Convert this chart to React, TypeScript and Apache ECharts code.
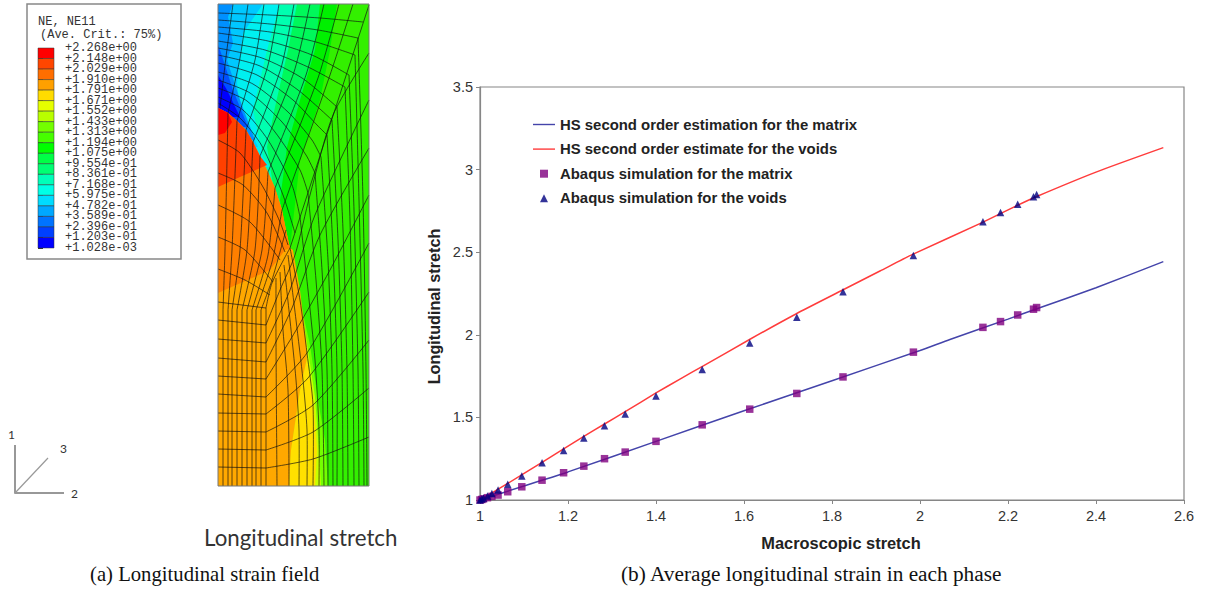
import React, { useEffect, useRef } from "react";
import * as echarts from "echarts";

// ---- right panel data ----
const hsMatrix = [[1, 1], [1.1, 1.085], [1.2, 1.17], [1.4, 1.355], [1.6, 1.54], [1.8, 1.722], [2, 1.905], [2.068, 1.972], [2.2, 2.095], [2.264, 2.156], [2.4, 2.285], [2.553, 2.443]];
const hsVoids = [[1, 1], [1.063, 1.1], [1.141, 1.228], [1.19, 1.31], [1.236, 1.385], [1.283, 1.46], [1.33, 1.535], [1.4, 1.648], [1.4545, 1.732], [1.5076, 1.812], [1.6136, 1.973], [1.718, 2.126], [1.8243, 2.271], [1.909, 2.386], [1.9833, 2.487], [2.141, 2.679], [2.22, 2.782], [2.264, 2.836], [2.4, 2.985], [2.553, 3.133]];
const abaqusMatrix = [[1, 1], [1.004, 1.003], [1.008, 1.007], [1.017, 1.014], [1.027, 1.022], [1.041, 1.03], [1.063, 1.05], [1.095, 1.08], [1.141, 1.12], [1.19, 1.165], [1.236, 1.205], [1.283, 1.25], [1.33, 1.29], [1.4, 1.355], [1.505, 1.455], [1.613, 1.55], [1.72, 1.645], [1.825, 1.745], [1.985, 1.895], [2.143, 2.045], [2.183, 2.08], [2.222, 2.12], [2.258, 2.155], [2.265, 2.165]];
const abaqusVoids = [[1, 1], [1.004, 1.006], [1.008, 1.012], [1.017, 1.024], [1.027, 1.04], [1.041, 1.06], [1.063, 1.095], [1.095, 1.145], [1.141, 1.225], [1.19, 1.3], [1.236, 1.375], [1.283, 1.45], [1.33, 1.52], [1.4, 1.63], [1.505, 1.79], [1.613, 1.95], [1.72, 2.106], [1.825, 2.26], [1.985, 2.48], [2.143, 2.685], [2.183, 2.74], [2.222, 2.79], [2.258, 2.835], [2.265, 2.85]];

// ---- contour legend ----
const contourLabels = ["+2.268e+00", "+2.148e+00", "+2.029e+00", "+1.910e+00", "+1.791e+00", "+1.671e+00", "+1.552e+00", "+1.433e+00", "+1.313e+00", "+1.194e+00", "+1.075e+00", "+9.554e-01", "+8.361e-01", "+7.168e-01", "+5.975e-01", "+4.782e-01", "+3.589e-01", "+2.396e-01", "+1.203e-01", "+1.028e-03"];
const cellColors = ["#ff0000", "#ff4600", "#ff6e00", "#ffa000", "#ffdc00", "#e6ff00", "#b9ff00", "#73ff00", "#46ff00", "#00ff00", "#00ff46", "#00ff73", "#00ffb9", "#00ffe6", "#00dcff", "#00a8ff", "#0073ff", "#0040ff", "#0000ff"];

// ---- FE field: picture-space outlines, painted back to front ----
const voidCurve = [[218, 108], [228, 113], [237, 121], [246, 130], [253, 142], [260, 156], [268, 172], [275, 188], [282, 210], [286, 230], [290, 248]];
const patches: { fill: string; pts: number[][] }[] = [
  { fill: "#33f000", pts: [[218, 4], [369, 4], [369, 486], [218, 486]] },
  { fill: "#00f000", pts: [[218, 4], [337, 4], [330, 50], [320, 100], [300, 160], [290, 248], [218, 248]] },
  { fill: "#00f85a", pts: [[218, 4], [320, 4], [315, 50], [300, 100], [287, 147], [280, 200], [285, 233], [218, 233]] },
  { fill: "#00ffb0", pts: [[218, 4], [297, 4], [288, 50], [275, 107], [267, 147], [275, 197], [218, 197]] },
  { fill: "#00f0f0", pts: [[218, 4], [280, 4], [267, 50], [253, 110], [263, 157], [270, 167], [218, 167]] },
  { fill: "#00c8ff", pts: [[218, 4], [263, 4], [243, 33], [237, 83], [240, 110], [258, 147], [218, 147]] },
  { fill: "#0090ff", pts: [[218, 4], [233, 4], [228, 17], [233, 43], [227, 60], [240, 100], [255, 140], [218, 140]] },
  { fill: "#0050ff", pts: [[218, 45], [220, 50], [233, 90], [248, 127], [218, 127]] },
  { fill: "#0000ff", pts: [[218, 75], [227, 90], [240, 117], [218, 117]] },
  { fill: "#73ff00", pts: [[290, 250], [300, 300], [310, 345], [318, 400], [325, 440], [328, 486], [266, 486], [266, 308]] },
  { fill: "#c8ff00", pts: [[290, 250], [300, 300], [308, 350], [315, 397], [319, 450], [321, 486], [266, 486], [266, 308]] },
  { fill: "#ffe000", pts: [[307, 358], [313, 397], [317, 450], [315, 486], [289, 486], [291, 450], [300, 390]] },
  { fill: "#ffa800", pts: [[218, 486], ...voidCurve, [293, 250], [300, 290], [306, 340], [307, 358], [300, 390], [291, 450], [289, 486]] },
  { fill: "#ff7f00", pts: [...voidCurve, [285, 250], [270, 270], [218, 293]] },
  { fill: "#ff4000", pts: [[218, 108], [228, 113], [237, 121], [246, 130], [253, 142], [260, 156], [267, 165], [240, 177], [218, 187]] },
  { fill: "#ff0000", pts: [[218, 108], [228, 113], [232, 122], [225, 133], [218, 135]] },
];

// ---- FE mesh: picture-space polylines ----
const meshStraight = [
  [[223, 486], [223, 310]], [[228, 486], [228, 310]], [[232, 486], [232, 310]], [[237, 486], [237, 310]], [[242, 486], [242, 310]],
  [[247, 486], [247, 310]], [[252, 486], [252, 310]], [[256, 486], [256, 310]], [[261, 486], [261, 310]], [[266, 486], [266, 308]],
  [[218, 302], [266, 308]], [[218, 320], [266, 325]], [[218, 339], [266, 343]], [[218, 358], [266, 362]], [[218, 376], [266, 379]],
  [[218, 394], [266, 397]], [[218, 413], [266, 414]], [[218, 431], [266, 432]], [[218, 449], [266, 450]], [[218, 467], [266, 468]],
  [[369, 5], [290, 248]],
];
const meshColumns = [
  [[223, 310], [225, 250], [228, 113]],
  [[228, 310], [232, 250], [237, 121]],
  [[232, 310], [240, 250], [246, 130]],
  [[237, 310], [247, 250], [253, 142]],
  [[242, 310], [255, 250], [260, 156]],
  [[247, 310], [262, 250], [268, 172]],
  [[252, 310], [268, 255], [275, 188]],
  [[256, 310], [272, 262], [282, 210]],
  [[261, 310], [272, 280], [286, 230]],
  [[266, 308], [272, 283], [290, 248]],
];
const meshInnerRows = [
  [[218, 140], [240, 153], [263, 187], [280, 222], [288, 245]],
  [[218, 173], [243, 185], [267, 213], [285, 252]],
  [[218, 205], [250, 222], [280, 260]],
  [[218, 237], [245, 250], [273, 282]],
  [[218, 269], [245, 280], [270, 295]],
];
const meshFans = [
  [[266, 325], [280, 290], [295, 255], [310, 195], [333, 115], [369, 53]],
  [[266, 343], [290, 290], [315, 215], [369, 100]],
  [[266, 362], [292, 308], [320, 235], [369, 148]],
  [[266, 379], [295, 332], [330, 270], [369, 195]],
  [[266, 397], [307, 353], [369, 243]],
  [[266, 414], [308, 378], [369, 292]],
  [[266, 432], [313, 405], [369, 340]],
  [[266, 450], [313, 432], [369, 388]],
  [[266, 468], [313, 459], [369, 437]],
];
const meshArcs = [
  [[218, 13], [270, 15], [320, 18], [363, 22]],
  [[218, 20], [270, 24], [318, 30], [358, 38]],
  [[218, 27], [270, 32], [316, 42], [355, 55]],
  [[218, 33], [268, 41], [312, 55], [349, 75]],
  [[218, 41], [265, 50], [308, 67], [345, 87]],
  [[218, 48], [262, 58], [302, 78], [337, 107]],
  [[218, 55], [260, 66], [298, 90], [332, 120]],
  [[218, 63], [257, 75], [293, 100], [317, 125], [327, 135]],
  [[218, 72], [253, 84], [288, 112], [312, 140], [321, 157]],
  [[218, 80], [250, 93], [282, 122], [306, 155], [315, 173]],
  [[218, 88], [247, 101], [275, 132], [300, 170], [308, 193]],
  [[218, 97], [243, 110], [268, 140], [292, 185], [300, 217]],
  [[218, 103], [240, 118], [262, 146], [283, 195], [295, 233]],
];
const meshRadials = [
  [[233, 4], [226, 57], [220, 108]],
  [[248, 4], [240, 58], [228, 113]],
  [[264, 4], [255, 60], [237, 121]],
  [[279, 4], [268, 65], [246, 130]],
  [[294, 4], [281, 68], [253, 142]],
  [[310, 4], [294, 72], [260, 156]],
  [[324, 4], [306, 75], [268, 172]],
  [[339, 4], [318, 78], [275, 188]],
  [[353, 4], [330, 75], [282, 210]],
];
const meshStrip = [
  [[290, 248], [300, 300], [307, 353], [313, 405], [313, 486]],
  [[288, 255], [296, 320], [303, 380], [307, 430], [307, 486]],
  [[284, 265], [290, 320], [296, 380], [299, 430], [299, 486]],
  [[280, 272], [283, 330], [288, 390], [289, 486]],
  [[276, 278], [276, 340], [277, 486]],
  [[300, 217], [308, 290], [315, 360], [319, 430], [319, 486]],
  [[308, 193], [316, 280], [322, 370], [324, 486]],
  [[315, 173], [322, 270], [327, 370], [328, 486]],
  [[321, 157], [328, 260], [332, 370], [333, 486]],
  [[327, 135], [333, 250], [337, 370], [337, 486]],
  [[332, 120], [338, 240], [342, 370], [343, 486]],
  [[337, 107], [343, 230], [347, 370], [348, 486]],
  [[345, 87], [350, 220], [353, 370], [354, 486]],
  [[349, 75], [354, 210], [358, 370], [359, 486]],
  [[355, 55], [359, 200], [363, 370], [364, 486]],
  [[358, 38], [363, 200], [366, 370], [367, 486]],
];
const meshCurves = [...meshColumns, ...meshInnerRows, ...meshFans, ...meshArcs, ...meshRadials, ...meshStrip];
const meshLines = [...meshStraight, ...meshCurves];

const SANS = "'Liberation Sans', Arial, sans-serif";
const MONO = "'Liberation Mono', monospace";
const SERIF = "'Liberation Serif', serif";
const axisGrey = "#868686";
const LINE_ICON = "path://M0 0H22V1.4H0Z";
const SQUARE = "path://M0 0H10V10H0Z";
const TRIANGLE = "path://M5 0L10 10H0Z";

export default function App() {
  const ref = useRef<HTMLDivElement>(null);
  useEffect(() => {
    document.body.style.margin = "0";
    const chart = echarts.init(ref.current!, null, { renderer: "svg" });
    const hiddenValue = (gridIndex: number, min: number, max: number, inverse = false) => ({
      type: "value", gridIndex, min, max, inverse, show: false, splitLine: { show: false },
    });
    chart.setOption({
      animation: false,
      backgroundColor: "#ffffff",
      grid: [
        { left: 480, top: 87, width: 704, height: 413, show: true, borderColor: axisGrey, borderWidth: 1.2, backgroundColor: "transparent" },
        { left: 218, top: 4, width: 151, height: 482 },
        { left: 38, top: 48, width: 16, height: 200 },
      ],
      xAxis: [
        {
          type: "value", gridIndex: 0, min: 1, max: 2.6, interval: 0.2,
          name: "Macroscopic stretch", nameLocation: "middle", nameGap: 35,
          nameTextStyle: { fontFamily: SANS, fontWeight: "bold", fontSize: 16.4, color: "#222", padding: [0, 0, 0, 18] },
          axisLine: { lineStyle: { color: axisGrey, width: 1.2 } },
          axisTick: { show: true, length: 4, lineStyle: { color: axisGrey } },
          axisLabel: { fontFamily: SANS, fontSize: 14.5, color: "#333", margin: 8, formatter: (v: number) => String(+v.toFixed(1)) },
          splitLine: { show: false },
        },
        hiddenValue(1, 218, 369),
        hiddenValue(2, 0, 1),
      ],
      yAxis: [
        {
          type: "value", gridIndex: 0, min: 1, max: 3.5, interval: 0.5,
          name: "Longitudinal stretch", nameLocation: "middle", nameGap: 37, nameRotate: 90,
          nameTextStyle: { fontFamily: SANS, fontWeight: "bold", fontSize: 16.2, color: "#222", padding: [0, 26, 0, 0] },
          axisLine: { show: true, lineStyle: { color: axisGrey, width: 1.2 } },
          axisTick: { show: true, length: 4, lineStyle: { color: axisGrey } },
          axisLabel: { fontFamily: SANS, fontSize: 14.5, color: "#333", margin: 7, formatter: (v: number) => String(+v.toFixed(1)) },
          splitLine: { show: false },
        },
        hiddenValue(1, 4, 486, true),
        {
          type: "value", gridIndex: 2, min: 0, max: 19, interval: 1, inverse: true, position: "right",
          axisLine: { show: false },
          axisTick: { show: true, length: 5, lineStyle: { color: "#333" } },
          splitLine: { show: false },
          axisLabel: { show: false },
        },
      ],
      legend: {
        left: 533, top: 117, padding: 0, orient: "vertical", itemWidth: 22, itemHeight: 8, itemGap: 9.6, selectedMode: false, symbolKeepAspect: true,
        textStyle: { fontFamily: SANS, fontWeight: "bold", fontSize: 14.9, color: "#222" },
        data: [
          { name: "HS second order estimation for the matrix", icon: LINE_ICON },
          { name: "HS second order estimate for the voids", icon: LINE_ICON },
          { name: "Abaqus simulation for the matrix", icon: SQUARE },
          { name: "Abaqus simulation for the voids", icon: TRIANGLE },
        ],
      },
      graphic: [
        { type: "rect", shape: { x: 27, y: 4, width: 154, height: 255 }, style: { fill: "none", stroke: "#888", lineWidth: 1.5 } },
        { type: "text", x: 38, y: 22, style: { text: "NE, NE11", font: `12px ${MONO}`, fill: "#333", textVerticalAlign: "middle" } },
        { type: "text", x: 40, y: 35, style: { text: "(Ave. Crit.: 75%)", font: `12px ${MONO}`, fill: "#333", textVerticalAlign: "middle" } },
        { type: "polyline", shape: { points: [[15, 445], [15, 493], [64, 493]] }, style: { fill: "none", stroke: "#777", lineWidth: 1.5 } },
        { type: "line", shape: { x1: 15, y1: 493, x2: 48, y2: 458 }, style: { stroke: "#999", lineWidth: 1.2 } },
        { type: "text", x: 8, y: 434, style: { text: "1", font: `12px Lato, sans-serif`, fill: "#333", textVerticalAlign: "middle" } },
        { type: "text", x: 71, y: 493, style: { text: "2", font: `12px Lato, sans-serif`, fill: "#333", textVerticalAlign: "middle" } },
        { type: "text", x: 60, y: 448, style: { text: "3", font: `12px Lato, sans-serif`, fill: "#333", textVerticalAlign: "middle" } },
        { type: "text", x: 204, y: 537, style: { text: "Longitudinal stretch", font: "22.3px Lato, sans-serif", fill: "#333", textVerticalAlign: "middle" } },
        { type: "text", x: 90, y: 574, style: { text: "(a) Longitudinal strain field", font: `20.7px ${SERIF}`, fill: "#111", textVerticalAlign: "middle" } },
        { type: "text", x: 621, y: 574, style: { text: "(b) Average longitudinal strain in each phase", font: `21.3px ${SERIF}`, fill: "#111", textVerticalAlign: "middle" } },
      ],
      series: [
        {
          type: "custom", xAxisIndex: 2, yAxisIndex: 2, silent: true,
          data: cellColors.map((_, i) => [0, i]),
          renderItem: (p: any, api: any) => {
            const i = p.dataIndex;
            const a = api.coord([0, i]);
            const b = api.coord([1, i + 1]);
            return { type: "rect", shape: { x: a[0], y: a[1], width: b[0] - a[0], height: b[1] - a[1] }, style: { fill: cellColors[i], stroke: "#333", lineWidth: 0.5 } };
          },
        },
        {
          type: "custom", xAxisIndex: 2, yAxisIndex: 2, silent: true,
          data: contourLabels.map((_, i) => [1, i]),
          renderItem: (p: any, api: any) => {
            const a = api.coord([1, p.dataIndex]);
            return { type: "text", x: a[0] + 11, y: a[1], style: { text: contourLabels[p.dataIndex], font: `12px ${MONO}`, fill: "#333", textVerticalAlign: "middle" } };
          },
        },
        {
          type: "custom", xAxisIndex: 1, yAxisIndex: 1, silent: true,
          data: patches.map(() => [218, 4]),
          renderItem: (p: any, api: any) => ({
            type: "polygon",
            shape: { points: patches[p.dataIndex].pts.map((q) => api.coord(q)) },
            style: { fill: patches[p.dataIndex].fill },
          }),
        },
        {
          type: "custom", xAxisIndex: 1, yAxisIndex: 1, silent: true,
          data: meshLines.map(() => [218, 4]),
          renderItem: (p: any, api: any) => ({
            type: "polyline",
            shape: { points: meshLines[p.dataIndex].map((q) => api.coord(q)), smooth: p.dataIndex < meshStraight.length ? 0 : 0.25 },
            style: { fill: "none", stroke: "#111", lineWidth: 0.9, opacity: 0.75 },
          }),
        },
        {
          type: "custom", xAxisIndex: 1, yAxisIndex: 1, silent: true,
          data: [[218, 4]],
          renderItem: (_: any, api: any) => {
            const a = api.coord([218, 4]);
            const b = api.coord([369, 486]);
            return { type: "rect", shape: { x: a[0], y: a[1], width: b[0] - a[0], height: b[1] - a[1] }, style: { fill: "none", stroke: "#777", lineWidth: 1 } };
          },
        },
        { name: "HS second order estimation for the matrix", type: "line", xAxisIndex: 0, yAxisIndex: 0, data: hsMatrix, symbol: "none", smooth: 0.2, lineStyle: { color: "#4444aa", width: 1.5 }, itemStyle: { color: "#4444aa" }, z: 3 },
        { name: "HS second order estimate for the voids", type: "line", xAxisIndex: 0, yAxisIndex: 0, data: hsVoids, symbol: "none", smooth: 0.2, lineStyle: { color: "#ff3c3c", width: 1.5 }, itemStyle: { color: "#ff3c3c" }, z: 3 },
        { name: "Abaqus simulation for the matrix", type: "scatter", xAxisIndex: 0, yAxisIndex: 0, data: abaqusMatrix, symbol: "rect", symbolSize: 7.5, itemStyle: { color: "#800080" }, z: 4 },
        { name: "Abaqus simulation for the voids", type: "scatter", xAxisIndex: 0, yAxisIndex: 0, data: abaqusVoids, symbol: "triangle", symbolSize: 7.5, itemStyle: { color: "#000080" }, z: 5 },
      ],
    });
    return () => chart.dispose();
  }, []);
  return <div ref={ref} style={{ position: "absolute", left: 0, top: 0, width: 1206, height: 589 }} />;
}
